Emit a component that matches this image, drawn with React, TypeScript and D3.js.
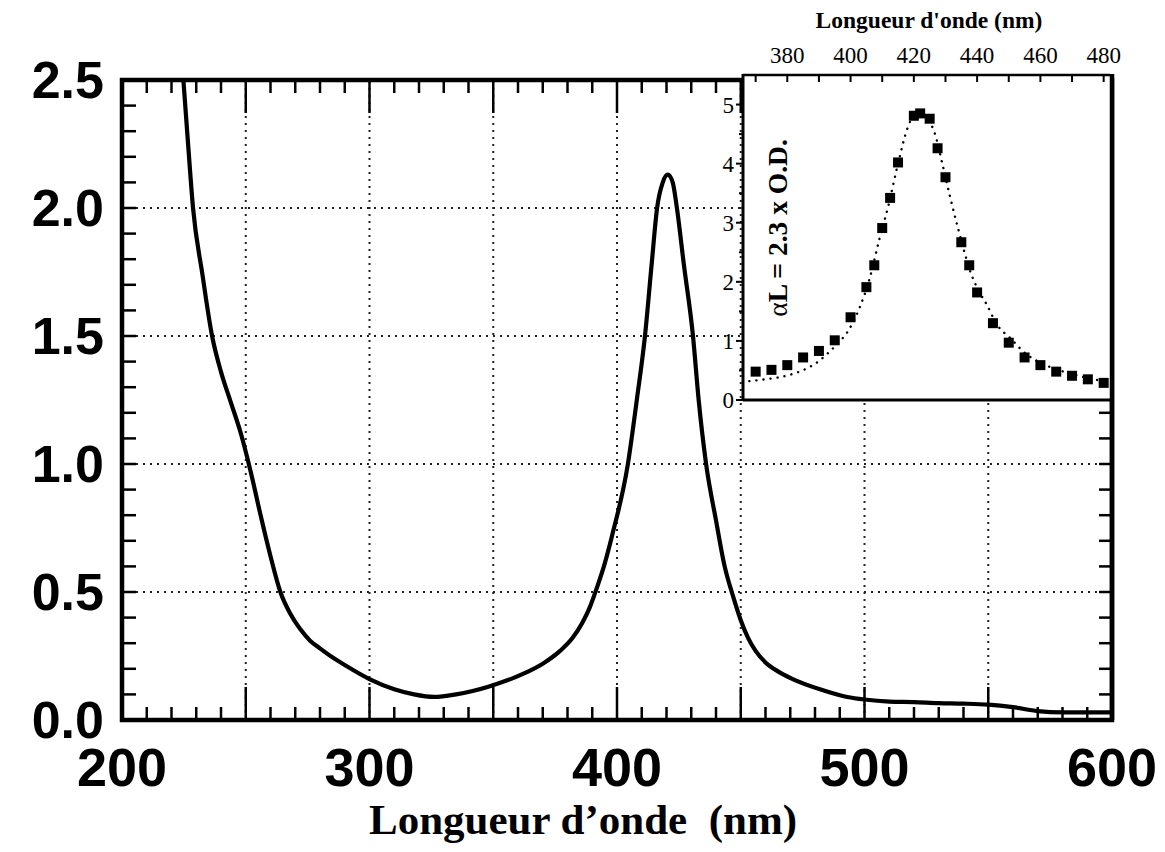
import React from "react";
import * as d3 from "d3";

// Main spectrum (absorbance vs wavelength)
const mainWl = [224.8, 226.7, 228.7, 232.5, 236.4, 240, 244, 248, 252, 256, 260, 264, 268, 272, 276, 280, 285, 290, 300, 310, 318, 326, 335, 348, 362, 370, 377, 382, 386, 389, 392, 395, 398, 404.4, 408, 411.3, 414, 416.2, 418.5, 420.5, 422.5, 424.2, 427, 430.7, 433, 436, 440, 443.5, 447, 450, 453, 456, 460, 465, 471, 482, 493, 500, 510, 520, 530, 540, 550, 560, 570, 580, 590, 600];
const mainAbs = [2.5, 2.25, 2.0, 1.74, 1.5, 1.36, 1.24, 1.12, 0.97, 0.8, 0.64, 0.5, 0.415, 0.355, 0.31, 0.28, 0.245, 0.215, 0.16, 0.12, 0.1, 0.09, 0.1, 0.13, 0.18, 0.22, 0.27, 0.32, 0.38, 0.44, 0.52, 0.61, 0.72, 1.0, 1.25, 1.5, 1.78, 2.0, 2.1, 2.13, 2.1, 2.0, 1.78, 1.5, 1.25, 1.0, 0.78, 0.6, 0.48, 0.39, 0.32, 0.27, 0.225, 0.19, 0.16, 0.12, 0.09, 0.08, 0.072, 0.07, 0.066, 0.064, 0.06, 0.05, 0.035, 0.03, 0.03, 0.03];

// Inset measured points
const insetWl = [370, 375, 380, 385, 390, 395, 400, 405, 407.5, 410, 412.5, 415, 420, 422, 425, 427.5, 430, 435, 437.5, 440, 445, 450, 455, 460, 465, 470, 475, 480];
const insetAlphaL = [0.48, 0.51, 0.59, 0.72, 0.83, 1.01, 1.4, 1.91, 2.28, 2.91, 3.42, 4.02, 4.81, 4.85, 4.76, 4.26, 3.77, 2.67, 2.28, 1.82, 1.3, 0.97, 0.72, 0.59, 0.48, 0.41, 0.35, 0.29];

// Inset fitted (dotted) curve
const fitWl = [368, 373, 377, 381, 386, 390, 393, 396, 399, 403, 406, 409, 412, 415, 418, 420, 422, 424, 426.7, 429, 431.4, 434, 436, 438, 441, 443, 446, 451, 455, 460, 465, 470, 475, 480, 482];
const fitAlphaL = [0.32, 0.35, 0.38, 0.43, 0.53, 0.66, 0.8, 0.96, 1.15, 1.58, 2.05, 2.7, 3.3, 4.0, 4.6, 4.82, 4.88, 4.78, 4.5, 4.0, 3.45, 2.9, 2.5, 2.15, 1.8, 1.62, 1.3, 1.02, 0.8, 0.63, 0.52, 0.44, 0.37, 0.32, 0.3];

const mainXTicks = [200, 300, 400, 500, 600];
const mainYTicks = [0, 0.5, 1.0, 1.5, 2.0, 2.5];
const mainXGrid = [250, 300, 350, 400, 450, 500, 550];
const mainYGrid = [0.5, 1.0, 1.5, 2.0];
const insetXTicks = [380, 400, 420, 440, 460, 480];
const insetYTicks = [0, 1, 2, 3, 4, 5];

const mainXTitle = "Longueur d\u2019onde  (nm)";
const insetXTitle = "Longueur d'onde (nm)";

export default function App() {
  const x = d3.scaleLinear().domain([200, 600]).range([122, 1112]);
  const y = d3.scaleLinear().domain([0, 2.5]).range([720, 80]);
  const xi = d3.scaleLinear().domain([366, 482]).range([743, 1110]);
  const yi = d3.scaleLinear().domain([0, 5.5]).range([400, 75]);

  const mainLine = d3
    .line<number>()
    .x((_, i) => x(mainWl[i]))
    .y((d) => y(d))
    .curve(d3.curveMonotoneX);
  const fitLine = d3
    .line<number>()
    .x((_, i) => xi(fitWl[i]))
    .y((d) => yi(d))
    .curve(d3.curveMonotoneX);

  const minorX = d3.range(210, 600, 10);
  const minorY = d3.range(1, 25).map((v) => v / 10);
  const insetMinorX = d3.range(370, 481, 10);
  const insetMinorY = [0.5, 1.5, 2.5, 3.5, 4.5];

  const sans = "'Liberation Sans', Arial, sans-serif";
  const serif = "'Liberation Serif', 'Times New Roman', serif";
  const fmt = d3.format(".1f");

  return (
    <svg
      width={1165}
      height={852}
      style={{ position: "absolute", left: 0, top: 0, background: "#fff" }}
    >
      <defs>
        <clipPath id="mainClip">
          <rect x={122} y={80} width={990} height={640} />
        </clipPath>
      </defs>
      <rect x={0} y={0} width={1165} height={852} fill="#fff" />

      {/* grid */}
      <g stroke="#222" strokeWidth={2} strokeDasharray="2 5">
        {mainXGrid.map((v) => (
          <line key={"gx" + v} x1={x(v)} x2={x(v)} y1={y(0)} y2={y(2.5)} />
        ))}
        {mainYGrid.map((v) => (
          <line key={"gy" + v} x1={x(200)} x2={x(600)} y1={y(v)} y2={y(v)} />
        ))}
      </g>

      {/* ticks */}
      <g stroke="#000" strokeWidth={2.5}>
        {minorX.map((v) => {
          const len = v % 50 === 0 ? 33 : 13;
          return (
            <g key={"tx" + v}>
              <line x1={x(v)} x2={x(v)} y1={y(0)} y2={y(0) - len} />
              <line x1={x(v)} x2={x(v)} y1={y(2.5)} y2={y(2.5) + len} />
            </g>
          );
        })}
        {minorY.map((v) => (
          <g key={"ty" + v}>
            <line x1={x(200)} x2={x(200) + 14} y1={y(v)} y2={y(v)} />
            <line x1={x(600)} x2={x(600) - 13} y1={y(v)} y2={y(v)} />
          </g>
        ))}
      </g>

      {/* main curve */}
      <path
        d={mainLine(mainAbs) || ""}
        fill="none"
        stroke="#000"
        strokeWidth={4.2}
        strokeLinejoin="round"
        clipPath="url(#mainClip)"
      />

      {/* frame */}
      <rect x={122} y={80} width={990} height={640} fill="none" stroke="#000" strokeWidth={4.5} />

      {/* main tick labels */}
      <g fontFamily={sans} fontWeight="bold" fill="#000">
        {mainXTicks.map((v) => (
          <text key={"lx" + v} x={x(v)} y={786} textAnchor="middle" fontSize={54}>
            {v}
          </text>
        ))}
        {mainYTicks.map((v) => (
          <text key={"ly" + v} x={104} y={y(v) + 18} textAnchor="end" fontSize={52}>
            {fmt(v)}
          </text>
        ))}
      </g>
      <text
        x={583}
        y={834}
        textAnchor="middle"
        fontFamily={serif}
        fontWeight="bold"
        fontSize={43}
        style={{ whiteSpace: "pre" }}
      >
        {mainXTitle}
      </text>

      {/* inset */}
      <rect x={743} y={75} width={367} height={325} fill="#fff" />
      <path
        d={fitLine(fitAlphaL) || ""}
        fill="none"
        stroke="#000"
        strokeWidth={2.4}
        strokeDasharray="0.1 7"
        strokeLinecap="round"
      />
      {insetAlphaL.map((v, i) => (
        <rect
          key={"m" + i}
          x={xi(insetWl[i]) - 5}
          y={yi(v) - 5}
          width={10}
          height={10}
          fill="#000"
        />
      ))}
      <g stroke="#000" strokeWidth={2}>
        {insetMinorX.map((v) => (
          <line key={"itx" + v} x1={xi(v)} x2={xi(v)} y1={75} y2={82} />
        ))}
        {insetYTicks.map((v) => (
          <line key={"ity" + v} x1={743} x2={736} y1={yi(v)} y2={yi(v)} />
        ))}
        {insetMinorY.map((v) => (
          <line key={"itym" + v} x1={743} x2={739} y1={yi(v)} y2={yi(v)} />
        ))}
      </g>
      <line x1={743} x2={1110} y1={75} y2={75} stroke="#000" strokeWidth={2.5} />
      <line x1={743} x2={743} y1={74} y2={401} stroke="#000" strokeWidth={3} />
      <line x1={743} x2={1112} y1={400} y2={400} stroke="#000" strokeWidth={3} />
      <line x1={1112} x2={1112} y1={74} y2={720} stroke="#000" strokeWidth={4.5} />

      <g fontFamily={serif} fontSize={23} fill="#000">
        {insetXTicks.map((v) => (
          <text key={"ilx" + v} x={xi(v)} y={63} textAnchor="middle">
            {v}
          </text>
        ))}
        {insetYTicks.map((v) => (
          <text key={"ily" + v} x={734} y={yi(v) + 8} textAnchor="end">
            {v}
          </text>
        ))}
      </g>
      <text
        x={929}
        y={28}
        textAnchor="middle"
        fontFamily={serif}
        fontWeight="bold"
        fontSize={23.5}
      >
        {insetXTitle}
      </text>
      <text
        transform="translate(787,228) rotate(-90)"
        textAnchor="middle"
        fontFamily={serif}
        fontSize={27.5}
      >
        <tspan>α</tspan>
        <tspan fontWeight="bold">L = 2.3 x O.D.</tspan>
      </text>
    </svg>
  );
}
